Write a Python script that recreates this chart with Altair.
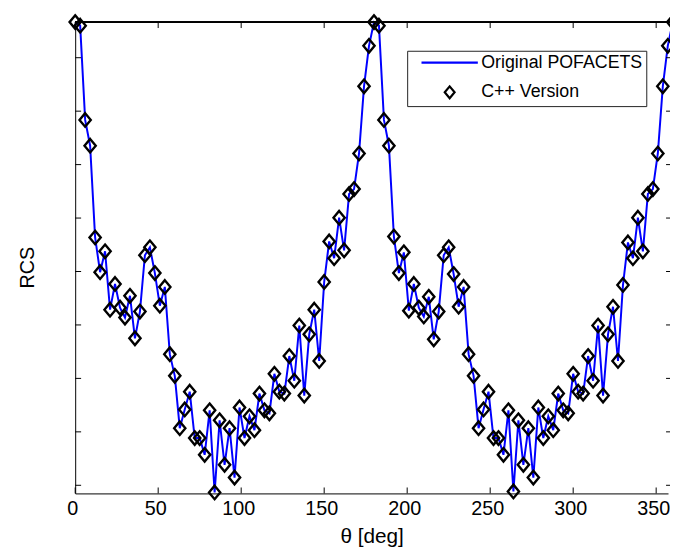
import altair as alt
import pandas as pd

# ---- data (RCS in arbitrary dB-like units, tick step = 5) ----
series_names = ["Original POFACETS", "C++ Version"]

theta_first = list(range(0, 180, 3))
rcs_first = [3.33, 3.0, -5.82, -8.23, -16.82, -20.06, -18.11, -23.57, -21.16, -23.38,
             -24.31, -22.27, -26.25, -23.75, -18.48, -17.74, -20.15, -23.20, -21.44, -27.73,
             -29.76, -34.66, -32.90, -31.24, -35.58, -35.58, -37.15, -32.99, -40.67, -33.92,
             -38.08, -34.66, -39.28, -32.72, -35.58, -33.55, -34.84, -31.42, -32.99, -33.27,
             -29.57, -31.24, -31.42, -27.91, -30.22, -25.05, -31.61, -25.88, -23.57, -28.37,
             -20.98, -17.19, -18.76, -14.97, -18.02, -12.75, -12.29, -8.96, -2.68, 1.11]

theta_second = list(range(180, 361, 3))
rcs_second = [3.33, 3.0, -5.82, -8.23, -16.73, -20.15, -18.21, -23.66, -21.16, -23.38,
              -24.21, -22.37, -26.34, -23.75, -18.48, -17.74, -20.24, -23.29, -21.44, -27.73,
              -29.76, -34.66, -32.90, -31.24, -35.58, -35.58, -37.15, -32.99, -40.57, -33.92,
              -38.08, -34.66, -39.28, -32.72, -35.58, -33.55, -34.84, -31.42, -32.99, -33.27,
              -29.57, -31.24, -31.42, -27.91, -30.22, -25.05, -31.61, -25.88, -23.30, -28.37,
              -21.26, -17.28, -18.76, -14.97, -18.11, -12.75, -12.29, -8.96, -2.68, 1.11,
              3.33]

x_ticks = [0, 50, 100, 150, 200, 250, 300, 350]
y_ticks = [-40, -35, -30, -25, -20, -15, -10, -5, 0]

x_domain = [0, 357.14]
y_domain = [-40.76, 3.33]

W, H = 600, 477
FONT = "Liberation Sans"

theta = theta_first + theta_second
rcs = rcs_first + rcs_second
df = pd.concat([
    pd.DataFrame({"theta": theta, "rcs": rcs, "series": series_names[0]}),
    pd.DataFrame({"theta": theta, "rcs": rcs, "series": series_names[1]}),
], ignore_index=True)

xs = alt.Scale(domain=x_domain, nice=False, zero=False)
ys = alt.Scale(domain=y_domain, nice=False, zero=False)

x_enc = alt.X("theta:Q", scale=xs,
              axis=alt.Axis(values=x_ticks, title="θ [deg]", ticks=False, grid=False,
                            domainColor="black", labelColor="black", labelFont=FONT,
                            labelFontSize=20, labelPadding=5, labelFlush=False,
                            labelOffset=-3,
                            titleFont=FONT, titleFontSize=21, titleFontWeight="normal",
                            titleColor="black", titlePadding=8))
y_enc = alt.Y("rcs:Q", scale=ys,
              axis=alt.Axis(labels=False, ticks=False, grid=False, title="RCS",
                            domainColor="black", titleFont=FONT, titleFontSize=20,
                            titleFontWeight="normal", titleColor="black", titlePadding=38,
                            titleY=248))

legend_def = alt.Legend(title=None, orient="none", legendX=336, legendY=29,
                        direction="vertical", strokeColor="#222222",
                        fillColor="white", padding=3, symbolOffset=31,
                        labelOffset=23, labelFont=FONT, labelFontSize=18,
                        labelColor="black", rowPadding=10,
                        symbolStrokeWidth=2.2, symbolSize=100,
                        labelLimit=400)

line = alt.Chart(df).transform_filter(
    alt.datum.series == series_names[0]
).mark_line(color="#0000ff", strokeWidth=2).encode(x=x_enc, y=y_enc, order="theta:Q")

points = alt.Chart(df).transform_filter(
    alt.datum.series == series_names[1]
).mark_point(filled=False, size=130, strokeWidth=2.4, opacity=1).encode(
    x=alt.X("theta:Q", scale=xs),
    y=alt.Y("rcs:Q", scale=ys),
    color=alt.Color("series:N",
                    scale=alt.Scale(domain=series_names, range=["#0000ff", "#000000"]),
                    legend=legend_def),
    shape=alt.Shape("series:N",
                    scale=alt.Scale(domain=series_names,
                                    range=["M-5.7,0H5.7", "M0,-1.2L1,0L0,1.2L-1,0Z"]),
                    legend=legend_def),
)

xt = pd.DataFrame({"t": x_ticks})
yt = pd.DataFrame({"t": y_ticks})
xb = alt.Chart(xt).mark_rule(color="black", strokeWidth=1).encode(
    x=alt.X("t:Q", scale=xs), y=alt.value(H - 6), y2=alt.value(H))
xtop = alt.Chart(xt).mark_rule(color="black", strokeWidth=1).encode(
    x=alt.X("t:Q", scale=xs), y=alt.value(0), y2=alt.value(6))
yl = alt.Chart(yt).mark_rule(color="black", strokeWidth=1).encode(
    y=alt.Y("t:Q", scale=ys), x=alt.value(0), x2=alt.value(6))
yr = alt.Chart(yt).mark_rule(color="black", strokeWidth=1).encode(
    y=alt.Y("t:Q", scale=ys), x=alt.value(W - 2), x2=alt.value(W + 2))
top = alt.Chart(xt).mark_rule(color="black", strokeWidth=1).encode(
    x=alt.value(0), x2=alt.value(W + 2), y=alt.value(0))

chart = alt.layer(line, points, xb, xtop, yl, yr, top).properties(
    width=W, height=H,
    autosize=alt.AutoSizeParams(type="none"),
    padding={"left": 68, "top": 11, "right": 2, "bottom": 56},
    background="white",
).configure_view(stroke=None)

chart.save("out.html", embed_options={"renderer": "svg", "actions": False})
